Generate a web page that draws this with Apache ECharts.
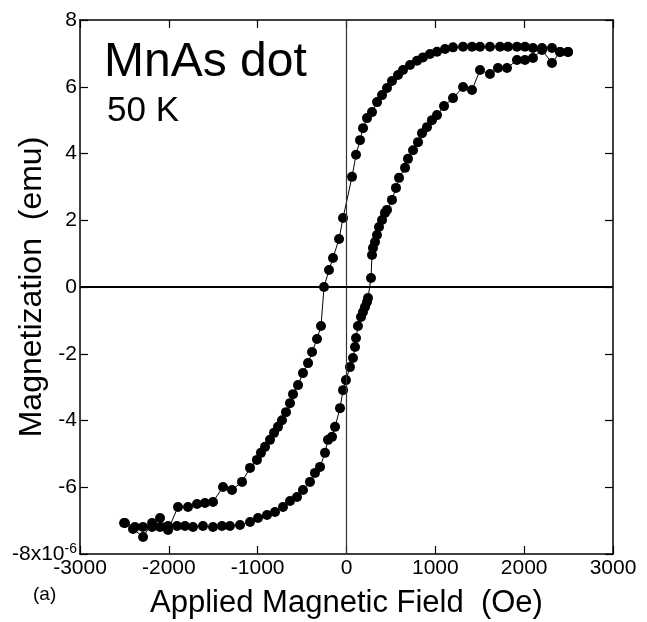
<!DOCTYPE html>
<html>
<head>
<meta charset="utf-8">
<script src="https://cdn.jsdelivr.net/npm/echarts@6/dist/echarts.min.js"></script>
<style>
html, body { margin: 0; padding: 0; background: #fff; }
#chart { width: 647px; height: 622px; }
</style>
</head>
<body>
<div id="chart"></div>
<script>
// descending branch (from +2500 Oe down to -2500 Oe)
const downField = [2494, 2404, 2313, 2201, 2099, 2009, 1919, 1818, 1728, 1615, 1503, 1413, 1312, 1199, 1109, 1019, 940, 861, 794, 715, 636, 580, 512, 456, 400, 344, 287, 231, 186, 152, 107, 62, -39, -84, -152, -197, -253, -287, -332, -388, -433, -490, -546, -602, -636, -681, -726, -771, -816, -861, -917, -963, -1008, -1086, -1176, -1289, -1390, -1503, -1593, -1683, -1784, -1897, -2009, -2099, -2189, -2290, -2403, -2504]
const downMag = [7.04, 7.04, 7.16, 7.16, 7.16, 7.2, 7.2, 7.2, 7.2, 7.2, 7.2, 7.2, 7.2, 7.18, 7.13, 7.05, 6.98, 6.88, 6.78, 6.65, 6.5, 6.35, 6.17, 5.96, 5.75, 5.54, 5.24, 5.06, 4.76, 4.4, 3.96, 3.3, 2.07, 1.44, 0.87, 0.51, 0, -1.17, -1.56, -1.95, -2.28, -2.58, -2.94, -3.21, -3.48, -3.75, -3.99, -4.19, -4.37, -4.58, -4.79, -4.97, -5.18, -5.42, -5.84, -6.08, -5.99, -6.44, -6.47, -6.5, -6.59, -6.59, -7.28, -6.92, -7.07, -7.49, -7.25, -7.07]

// ascending branch (from -2500 Oe up to +2500 Oe)
const upField = [-2494, -2381, -2291, -2189, -2099, -2009, -1908, -1818, -1728, -1616, -1503, -1402, -1312, -1199, -1086, -996, -895, -805, -715, -636, -557, -490, -411, -355, -298, -242, -208, -163, -129, -73, -39, -6, 39, 73, 96, 107, 129, 163, 186, 208, 231, 242, 276, 287, 298, 321, 343, 366, 400, 433, 456, 512, 557, 591, 659, 692, 749, 805, 850, 906, 962, 1019, 1098, 1199, 1312, 1413, 1503, 1615, 1705, 1807, 1919, 2009, 2099, 2201, 2313, 2404, 2494]
const upMag = [-7.07, -7.19, -7.19, -7.19, -7.19, -7.16, -7.16, -7.16, -7.19, -7.16, -7.19, -7.16, -7.16, -7.13, -7.04, -6.92, -6.83, -6.74, -6.59, -6.41, -6.29, -6.08, -5.84, -5.57, -5.39, -4.97, -4.58, -4.49, -4.19, -3.63, -3.09, -2.79, -2.4, -2.13, -1.8, -1.53, -1.17, -0.9, -0.75, -0.6, -0.45, -0.33, 0.27, 0.96, 1.17, 1.35, 1.56, 1.8, 2.01, 2.22, 2.31, 2.61, 2.97, 3.27, 3.57, 3.84, 4.1, 4.34, 4.61, 4.79, 5.0, 5.15, 5.42, 5.66, 5.99, 5.9, 6.5, 6.38, 6.56, 6.56, 6.8, 6.8, 6.86, 7.1, 6.71, 7.04, 7.04]

const xTicks = [-3000, -2000, -1000, 0, 1000, 2000, 3000]
const yTicks = [-8, -6, -4, -2, 0, 2, 4, 6, 8]

const font = '"Liberation Sans", Arial, sans-serif'

const chart = echarts.init(document.getElementById('chart'))

const pairs = (xs, ys) => xs.map((x, i) => [x, ys[i]])

const tickStyle = { show: true, inside: true, length: 8, lineStyle: { color: '#000', width: 1.2 } }
const lineStyle = { show: true, onZero: false, lineStyle: { color: '#000', width: 1.5 } }

const option = {
  animation: false,
  backgroundColor: '#fff',
  grid: { left: 80, top: 20, right: 34, bottom: 68, containLabel: false, outerBoundsMode: 'none' },
  xAxis: [{
    type: 'value',
    min: xTicks[0],
    max: xTicks[xTicks.length - 1],
    interval: 1000,
    axisLine: lineStyle,
    axisTick: tickStyle,
    splitLine: { show: false },
    axisLabel: { color: '#000', fontSize: 21, fontFamily: font, margin: 4, formatter: v => String(v) },
    name: 'Applied Magnetic Field  (Oe)',
    nameLocation: 'middle',
    nameGap: 34,
    nameMoveOverlap: false,
    nameTextStyle: { color: '#000', fontSize: 31, fontFamily: font }
  }, {
    type: 'value',
    position: 'top',
    min: xTicks[0],
    max: xTicks[xTicks.length - 1],
    interval: 1000,
    axisLine: lineStyle,
    axisTick: tickStyle,
    splitLine: { show: false },
    axisLabel: { show: false }
  }],
  yAxis: [{
    type: 'value',
    min: yTicks[0],
    max: yTicks[yTicks.length - 1],
    interval: 2,
    axisLine: lineStyle,
    axisTick: tickStyle,
    splitLine: { show: false },
    axisLabel: {
      color: '#000', fontSize: 21, fontFamily: font, margin: 3,
      formatter: v => v === -8 ? '{a|-8x10}{b|-6}' : String(v),
      rich: {
        a: { color: '#000', fontSize: 21, fontFamily: font },
        b: { color: '#000', fontSize: 14, fontFamily: font, padding: [0, 0, 9, 0] }
      }
    },
    name: 'Magnetization  (emu)',
    nameLocation: 'middle',
    nameGap: 32,
    nameMoveOverlap: false,
    nameTextStyle: { color: '#000', fontSize: 32, fontFamily: font }
  }, {
    type: 'value',
    position: 'right',
    min: yTicks[0],
    max: yTicks[yTicks.length - 1],
    interval: 2,
    axisLine: lineStyle,
    axisTick: tickStyle,
    splitLine: { show: false },
    axisLabel: { show: false }
  }],
  graphic: [
    { type: 'text', left: 104, top: 39, style: { text: 'MnAs dot', fontSize: 48, fontFamily: font, fill: '#000' } },
    { type: 'text', left: 107, top: 94, style: { text: '50 K', fontSize: 35, fontFamily: font, fill: '#000' } },
    { type: 'text', left: 33, top: 585, style: { text: '(a)', fontSize: 19, fontFamily: font, fill: '#000' } }
  ],
  series: [{
    type: 'line',
    data: pairs(downField, downMag),
    symbol: 'circle',
    symbolSize: 10,
    itemStyle: { color: '#000' },
    lineStyle: { color: '#000', width: 1 },
    markLine: {
      silent: true,
      symbol: 'none',
      label: { show: false },
      lineStyle: { color: '#000', type: 'solid', width: 1.5 },
      data: [
        { xAxis: 0, lineStyle: { color: '#333', width: 1.2 } },
        { yAxis: 0, lineStyle: { color: '#000', width: 2 } }
      ]
    }
  }, {
    type: 'line',
    data: pairs(upField, upMag),
    symbol: 'circle',
    symbolSize: 10,
    itemStyle: { color: '#000' },
    lineStyle: { color: '#000', width: 1 }
  }]
}

chart.setOption(option)
</script>
</body>
</html>
